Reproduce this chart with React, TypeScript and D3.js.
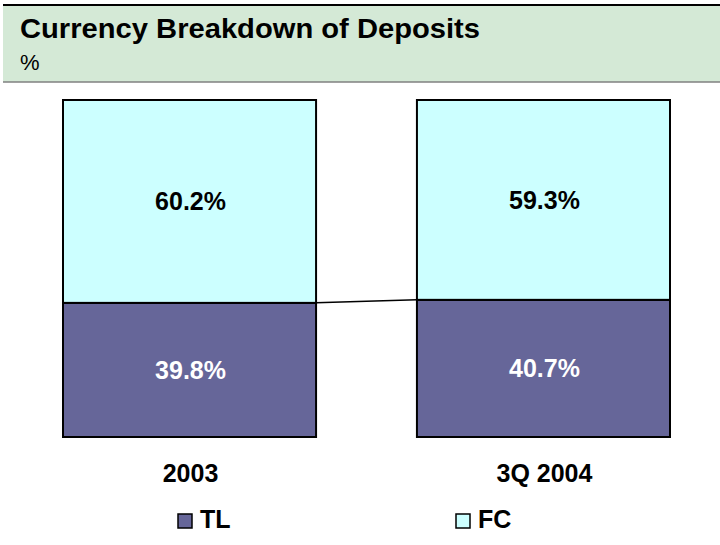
import * as d3 from "d3";
import React from "react";

const categories = ["2003", "3Q 2004"];
const tlValues = [39.8, 40.7];
const fcValues = [60.2, 59.3];
const seriesNames = ["TL", "FC"];
const seriesColors = ["#666699", "#ccffff"];

const width = 720;
const height = 545;
const margin = { top: 100, bottom: 108, left: 63, right: 50 };

export default function App() {
	const x = d3
		.scaleBand()
		.domain(categories)
		.range([margin.left, width - margin.right])
		.paddingInner(0.285)
		.paddingOuter(0);

	const y = d3
		.scaleLinear()
		.domain([0, 100])
		.range([height - margin.bottom, margin.top]);

	const stacked = categories.map((c, i) => {
		const tl = tlValues[i];
		const fc = fcValues[i];
		return [
			{ key: "TL", y0: 0, y1: tl, v: tl },
			{ key: "FC", y0: tl, y1: tl + fc, v: fc },
		];
	});

	const bw = x.bandwidth();
	const font = "'Liberation Sans', Arial, sans-serif";

	return (
		<svg
			width={width}
			height={height}
			style={{ position: "absolute", left: 0, top: 0, fontFamily: font }}
		>
			<rect x={0} y={0} width={width} height={height} fill="#ffffff" />
			{/* header */}
			<rect x={3} y={5} width={width - 3} height={77} fill="#d4e9d6" />
			<line x1={3} x2={width} y1={5} y2={5} stroke="#000" strokeWidth={2} />
			<line x1={3} x2={width} y1={82} y2={82} stroke="#808080" strokeWidth={1.5} />
			<text x={20} y={38} fontSize={27} fontWeight="bold" fill="#000" textLength={460} lengthAdjust="spacingAndGlyphs">
				Currency Breakdown of Deposits
			</text>
			<text x={20} y={70} fontSize={22} fill="#000">
				%
			</text>

			{/* connector line */}
			<line
				x1={(x(categories[0]) ?? 0) + bw}
				y1={y(tlValues[0])}
				x2={x(categories[1]) ?? 0}
				y2={y(tlValues[1])}
				stroke="#000"
				strokeWidth={1.5}
			/>

			{stacked.map((segs, i) => (
				<g key={categories[i]}>
					{segs.map((s, j) => (
						<g key={s.key}>
							<rect
								x={x(categories[i])}
								y={y(s.y1)}
								width={bw}
								height={y(s.y0) - y(s.y1)}
								fill={seriesColors[j]}
								stroke="#000"
								strokeWidth={2}
							/>
							<text
								x={(x(categories[i]) ?? 0) + bw / 2 + 1}
								y={(y(s.y0) + y(s.y1)) / 2 + 9}
								textAnchor="middle"
								fontSize={25}
								fontWeight="bold"
								fill={j === 0 ? "#ffffff" : "#000000"}
							>
								{s.v.toFixed(1)}%
							</text>
						</g>
					))}
					<text
						x={(x(categories[i]) ?? 0) + bw / 2 + 1}
						y={482}
						textAnchor="middle"
						fontSize={25}
						fontWeight="bold"
						fill="#000"
					>
						{categories[i]}
					</text>
				</g>
			))}

			{/* legend */}
			{seriesNames.map((n, i) => {
				const lx = [178, 456][i];
				return (
					<g key={n}>
						<rect
							x={lx}
							y={514}
							width={14}
							height={14}
							fill={seriesColors[i]}
							stroke="#000"
							strokeWidth={1.5}
						/>
						<text x={lx + 22} y={528} fontSize={25} fontWeight="bold" fill="#000">
							{n}
						</text>
					</g>
				);
			})}
		</svg>
	);
}
